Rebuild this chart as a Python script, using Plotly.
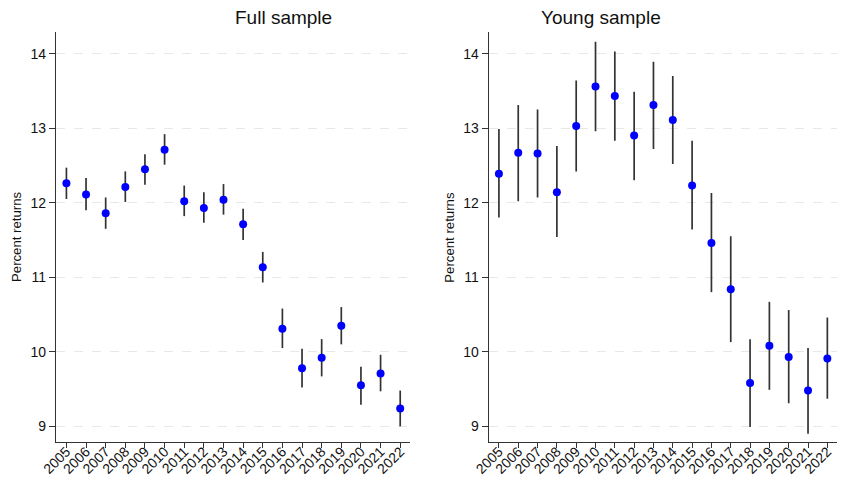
import plotly.graph_objects as go

years = list(range(2005, 2023))
full_est = [12.26, 12.11, 11.86, 12.21, 12.45, 12.71, 12.02, 11.93, 12.04, 11.71,
            11.135, 10.31, 9.78, 9.92, 10.35, 9.55, 9.71, 9.24]
full_hi = [12.47, 12.33, 12.07, 12.42, 12.65, 12.92, 12.23, 12.14, 12.25, 11.92,
           11.34, 10.58, 10.04, 10.17, 10.60, 9.80, 9.96, 9.48]
full_lo = [12.05, 11.90, 11.65, 12.01, 12.24, 12.51, 11.82, 11.73, 11.84, 11.50,
           10.93, 10.05, 9.52, 9.67, 10.10, 9.29, 9.47, 9.00]

young_est = [12.39, 12.67, 12.66, 12.14, 13.03, 13.56, 13.43, 12.90, 13.31, 13.11,
             12.23, 11.46, 10.84, 9.58, 10.08, 9.93, 9.48, 9.91]
young_hi = [12.99, 13.31, 13.25, 12.76, 13.64, 14.16, 14.03, 13.49, 13.89, 13.70,
            12.83, 12.13, 11.55, 10.17, 10.67, 10.56, 10.05, 10.46]
young_lo = [11.80, 12.02, 12.07, 11.54, 12.42, 12.96, 12.83, 12.30, 12.72, 12.52,
            11.64, 10.80, 10.13, 8.99, 9.49, 9.31, 8.90, 9.37]

y_ticks = [9, 10, 11, 12, 13, 14]
titles = ["Full sample", "Young sample"]

FONT = "Liberation Sans, Arial, Helvetica, sans-serif"

fig = go.Figure()

def add_panel(est, hi, lo, xa, ya):
    fig.add_trace(go.Scatter(
        x=years, y=est, mode="markers", xaxis=xa, yaxis=ya,
        marker=dict(color="#0000ff", size=8),
        error_y=dict(type="data", symmetric=False,
                     array=[h - e for h, e in zip(hi, est)],
                     arrayminus=[e - l for e, l in zip(est, lo)],
                     color="#333333", thickness=1.7, width=0),
        showlegend=False, hoverinfo="x+y"))

add_panel(full_est, full_hi, full_lo, "x", "y")
add_panel(young_est, young_hi, young_lo, "x2", "y2")

xcommon = dict(range=[2004.47, 2022.5], tickmode="array", tickvals=years,
               ticktext=[str(y) for y in years], tickangle=-45,
               ticks="outside", ticklen=5, tickcolor="#333333",
               showline=True, linecolor="#333333", linewidth=1.2,
               showgrid=False, zeroline=False, automargin=False,
               ticklabelstandoff=-10,
               tickfont=dict(family=FONT, size=14, color="#111111"))
ycommon = dict(range=[8.79, 14.29], tickmode="array", tickvals=y_ticks,
               ticks="outside", ticklen=6, tickcolor="#333333",
               showline=True, linecolor="#333333", linewidth=1.2,
               showgrid=True, gridcolor="#e8e8e8", griddash="dash", gridwidth=1,
               zeroline=False, automargin=False,
               tickfont=dict(family=FONT, size=14, color="#111111"))

fig.update_layout(
    width=841, height=477,
    margin=dict(l=56, r=4, t=32, b=35),
    paper_bgcolor="white", plot_bgcolor="white",
    xaxis=dict(domain=[0, 0.4533], anchor="y", **xcommon),
    yaxis=dict(domain=[0, 1], anchor="x", **ycommon),
    xaxis2=dict(domain=[0.554, 1], anchor="y2", **xcommon),
    yaxis2=dict(domain=[0, 1], anchor="x2", **ycommon),
    font=dict(family=FONT),
)

# Panel titles
for xc, t in [(0.2267, titles[0]), (0.777, titles[1])]:
    fig.add_annotation(x=xc, y=1, xref="paper", yref="paper", yanchor="bottom",
                       yshift=2, text=t, showarrow=False,
                       font=dict(family=FONT, size=19, color="#111111"))

# Y-axis titles
for xc in [0, 0.554]:
    fig.add_annotation(x=xc, y=0.5, xref="paper", yref="paper", xshift=-40,
                       xanchor="center", yanchor="middle",
                       text="Percent returns", textangle=-90, showarrow=False,
                       font=dict(family=FONT, size=13.2, color="#111111"))

fig.write_html("out.html",
               config={"displayModeBar": False},
               post_script="document.body.style.margin='0';document.body.style.overflow='hidden';")
